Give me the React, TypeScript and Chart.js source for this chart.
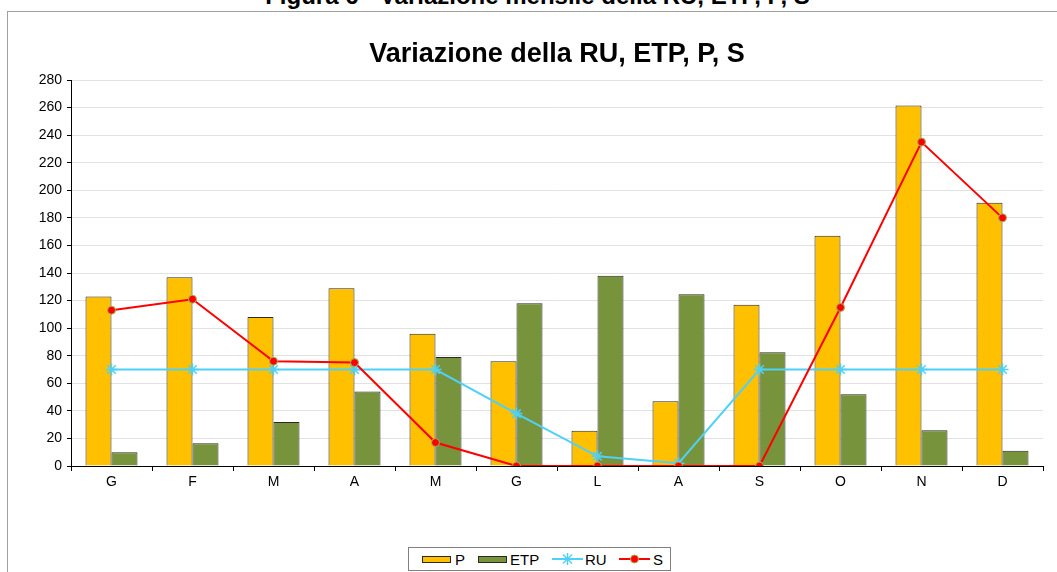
import React, { useEffect, useRef } from "react";
import { Chart, registerables } from "chart.js";

Chart.register(...registerables);

const months = ["G", "F", "M", "A", "M", "G", "L", "A", "S", "O", "N", "D"];
const pValues = [123, 137, 108, 129, 96, 76, 25.5, 47, 117, 167, 261.5, 191];
const etpValues = [10, 16.5, 32, 54, 79, 118, 138, 124.5, 82.5, 52, 26, 11];
const ruValues = [70, 70, 70, 70, 70, 38, 7, 2, 70, 70, 70, 70];
const sValues = [113, 121, 76, 75, 17, 0, 0, 0, 0, 115, 235, 180];
const yTicks = [0, 20, 40, 60, 80, 100, 120, 140, 160, 180, 200, 220, 240, 260, 280];

const FONT = "'Liberation Sans', Arial, sans-serif";
const P_COLOR = "#FFC000";
const ETP_COLOR = "#77933C";
const RU_COLOR = "#4FD1F7";
const S_COLOR = "#FF0000";
const BAR_EDGE = "#2a2a22";

export default function App() {
  const canvasRef = useRef<HTMLCanvasElement | null>(null);

  useEffect(() => {
    if (!canvasRef.current) return;
    const chart = new Chart(canvasRef.current, {
      type: "bar",
      data: {
        labels: months,
        datasets: [
          {
            type: "line",
            label: "S",
            data: sValues,
            borderColor: S_COLOR,
            backgroundColor: S_COLOR,
            borderWidth: 2,
            pointRadius: 4,
            pointBackgroundColor: S_COLOR,
            pointBorderColor: "#9BBB59",
            pointBorderWidth: 1,
            tension: 0,
            order: 0,
          },
          {
            type: "line",
            label: "RU",
            data: ruValues,
            borderColor: RU_COLOR,
            backgroundColor: RU_COLOR,
            borderWidth: 2,
            pointStyle: "star",
            pointRadius: 6,
            pointBorderColor: RU_COLOR,
            pointBorderWidth: 1.5,
            tension: 0,
            order: 1,
          },
          {
            type: "bar",
            label: "P",
            data: pValues,
            backgroundColor: P_COLOR,
            borderColor: BAR_EDGE,
            borderWidth: 1,
            categoryPercentage: 0.642,
            barPercentage: 1,
            order: 2,
          },
          {
            type: "bar",
            label: "ETP",
            data: etpValues,
            backgroundColor: ETP_COLOR,
            borderColor: BAR_EDGE,
            borderWidth: 1,
            categoryPercentage: 0.642,
            barPercentage: 1,
            order: 2,
          },
        ],
      },
      options: {
        animation: false,
        responsive: false,
        devicePixelRatio: 1,
        layout: { padding: { left: 0, right: 14, top: 0, bottom: 0 } },
        plugins: {
          legend: { display: false },
          tooltip: { enabled: false },
          title: {
            display: true,
            fullSize: false,
            text: "Variazione della RU, ETP, P, S",
            color: "#000",
            font: { family: FONT, size: 27, weight: "bold", lineHeight: 1.2 },
            padding: { top: 26, bottom: 9.6 },
          },
        },
        scales: {
          x: {
            grid: {
              offset: true,
              drawOnChartArea: false,
              drawTicks: true,
              tickLength: 5,
              tickColor: "#000",
            },
            border: { display: true, color: "#000", width: 1 },
            ticks: { color: "#000", font: { family: FONT, size: 14 }, padding: 3 },
            afterFit: (scale: any) => {
              scale.height = 34;
            },
          },
          y: {
            min: 0,
            max: 280,
            afterBuildTicks: (scale: any) => {
              scale.ticks = yTicks.map((v) => ({ value: v }));
            },
            grid: {
              color: "#E2E2E2",
              tickColor: "#000",
              tickLength: 4,
            },
            border: { display: true, color: "#000", width: 1 },
            ticks: { color: "#000", font: { family: FONT, size: 14 }, padding: 5 },
            afterFit: (scale: any) => {
              scale.width = 63;
            },
          },
        },
      },
    } as any);
    return () => chart.destroy();
  }, []);

  const legendText: React.CSSProperties = {
    position: "absolute",
    top: 3,
    fontFamily: FONT,
    fontSize: 15,
    lineHeight: "18px",
    color: "#000",
  };

  return (
    <div
      style={{
        position: "fixed",
        left: 0,
        top: 0,
        width: 1057,
        height: 572,
        overflow: "hidden",
        background: "#fff",
      }}
    >
      <div
        style={{
          position: "absolute",
          left: 252,
          top: -16,
          width: 571,
          textAlign: "center",
          whiteSpace: "nowrap",
          fontFamily: FONT,
          fontWeight: "bold",
          fontSize: 24,
          lineHeight: "24px",
          color: "#000",
        }}
      >
        Figura 6 - Variazione mensile della RU, ETP, P, S
      </div>
      <div
        style={{
          position: "absolute",
          left: 7,
          top: 11,
          width: 1120,
          height: 620,
          border: "1px solid #A0A0A0",
          boxSizing: "border-box",
        }}
      />
      <canvas
        ref={canvasRef}
        width={1049}
        height={488}
        style={{ position: "absolute", left: 8, top: 12, width: 1049, height: 488 }}
      />
      <div
        style={{
          position: "absolute",
          left: 408,
          top: 547,
          width: 263,
          height: 24,
          border: "1px solid #808080",
          boxSizing: "border-box",
          background: "#fff",
        }}
      >
        <div
          style={{
            position: "absolute",
            left: 13,
            top: 8,
            width: 29,
            height: 7,
            background: P_COLOR,
            border: "1px solid " + BAR_EDGE,
            boxSizing: "border-box",
          }}
        />
        <span style={{ ...legendText, left: 46 }}>P</span>
        <div
          style={{
            position: "absolute",
            left: 69,
            top: 8,
            width: 29,
            height: 7,
            background: ETP_COLOR,
            border: "1px solid " + BAR_EDGE,
            boxSizing: "border-box",
          }}
        />
        <span style={{ ...legendText, left: 101 }}>ETP</span>
        <svg style={{ position: "absolute", left: 143, top: 3 }} width={31} height={16}>
          <line x1={0} y1={8} x2={31} y2={8} stroke={RU_COLOR} strokeWidth={2} />
          <line x1={15.5} y1={2} x2={15.5} y2={14} stroke={RU_COLOR} strokeWidth={1.5} />
          <line x1={11} y1={3.5} x2={20} y2={12.5} stroke={RU_COLOR} strokeWidth={1.5} />
          <line x1={20} y1={3.5} x2={11} y2={12.5} stroke={RU_COLOR} strokeWidth={1.5} />
        </svg>
        <span style={{ ...legendText, left: 176 }}>RU</span>
        <svg style={{ position: "absolute", left: 210, top: 3 }} width={31} height={16}>
          <line x1={0} y1={8} x2={31} y2={8} stroke={S_COLOR} strokeWidth={2} />
          <circle cx={15.5} cy={8} r={4} fill={S_COLOR} stroke="#9BBB59" strokeWidth={1} />
        </svg>
        <span style={{ ...legendText, left: 244 }}>S</span>
      </div>
    </div>
  );
}
